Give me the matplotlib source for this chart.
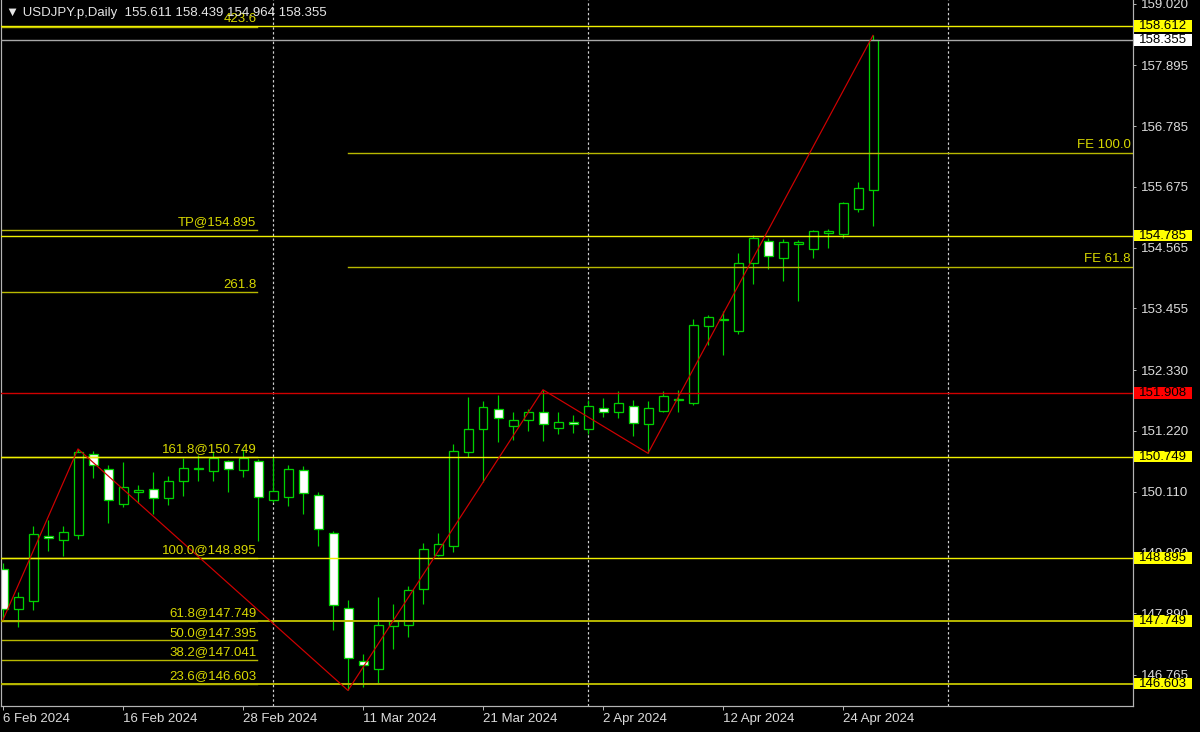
import matplotlib
matplotlib.use("Agg")
import matplotlib.pyplot as plt
import matplotlib.transforms as mtransforms
from matplotlib.patches import Rectangle

plt.rcParams['font.family'] = ['Liberation Sans', 'DejaVu Sans']

# daily bars, bar 0 = 6 Feb 2024, last = 26 Apr 2024
opens = [148.69, 147.96, 148.11, 149.30, 149.23, 149.32, 150.79, 150.53, 149.88, 150.10,
         150.16, 149.99, 150.31, 150.52, 150.48, 150.67, 150.50, 150.67, 149.95, 150.02,
         150.50, 150.05, 149.35, 147.99, 147.01, 146.87, 147.66, 147.67, 148.34, 148.95,
         149.12, 150.84, 151.25, 151.61, 151.30, 151.42, 151.56, 151.27, 151.39, 151.25,
         151.64, 151.56, 151.67, 151.34, 151.58, 151.78, 151.73, 153.14, 153.25, 153.05,
         154.29, 154.68, 154.37, 154.64, 154.54, 154.84, 154.81, 155.27, 155.611]
highs = [148.81, 148.27, 149.48, 149.59, 149.48, 150.89, 150.85, 150.59, 150.66, 150.23,
         150.46, 150.40, 150.72, 150.77, 150.86, 150.69, 150.89, 150.70, 150.74, 150.59,
         150.57, 150.11, 149.39, 148.13, 147.14, 148.19, 148.05, 148.38, 149.18, 149.35,
         150.98, 151.83, 151.77, 151.88, 151.57, 151.62, 151.97, 151.57, 151.51, 151.79,
         151.82, 151.94, 151.79, 151.77, 151.94, 151.96, 153.27, 153.34, 153.40, 154.46,
         154.79, 154.75, 154.72, 154.70, 154.89, 154.90, 155.39, 155.77, 158.439]
lows = [147.77, 147.64, 147.95, 149.03, 148.93, 149.25, 150.36, 149.53, 149.83, 149.90,
        149.70, 149.86, 150.03, 150.31, 150.31, 150.10, 150.38, 149.21, 149.93, 149.84,
        149.71, 149.11, 147.58, 146.48, 146.55, 146.62, 147.24, 147.45, 148.05, 148.93,
        149.01, 150.74, 150.28, 151.01, 151.06, 151.21, 151.04, 151.16, 151.18, 151.16,
        151.48, 151.46, 151.13, 150.81, 151.56, 151.57, 151.69, 152.78, 152.60, 152.98,
        153.91, 154.17, 153.95, 153.60, 154.38, 154.55, 154.75, 155.21, 154.964]
closes = [147.96, 148.18, 149.33, 149.27, 149.37, 150.84, 150.60, 149.95, 150.20, 150.14,
          150.00, 150.30, 150.55, 150.55, 150.72, 150.53, 150.72, 150.02, 150.12, 150.53,
          150.08, 149.42, 148.04, 147.07, 146.95, 147.67, 147.74, 148.32, 149.06, 149.16,
          150.86, 151.25, 151.65, 151.45, 151.42, 151.56, 151.34, 151.39, 151.35, 151.67,
          151.57, 151.72, 151.36, 151.63, 151.85, 151.80, 153.16, 153.30, 153.27, 154.29,
          154.75, 154.41, 154.67, 154.66, 154.86, 154.86, 155.38, 155.66, 158.355]

tick_idx = [0, 8, 16, 24, 32, 40, 48, 56]
date_labels = ['6 Feb 2024', '16 Feb 2024', '28 Feb 2024', '11 Mar 2024',
               '21 Mar 2024', '2 Apr 2024', '12 Apr 2024', '24 Apr 2024']
separator_idx = [18, 39, 63]

price_ticks = [159.020, 157.895, 156.785, 155.675, 154.565, 153.455,
               152.330, 151.220, 150.110, 149.000, 147.890, 146.765]

zigzag_idx = [0, 5, 23, 36, 43, 58]
zigzag_px = [147.77, 150.89, 146.48, 151.97, 150.81, 158.44]

# full width horizontal lines
hline_px = [158.612, 154.785, 150.749, 148.895, 147.749, 146.603]
hline_bright = [True, True, True, True, False, False]
red_line = 151.908
bid_line = 158.355

# fibo retracement levels (left part)
fib_labels = ['423.6', 'TP@154.895', '261.8', '161.8@150.749', '100.0@148.895',
              '61.8@147.749', '50.0@147.395', '38.2@147.041', '23.6@146.603']
fib_px = [158.603, 154.895, 153.749, 150.749, 148.895, 147.749, 147.395, 147.041, 146.603]
fib_end = 16.9

# fibo expansion levels
fe_labels = ['FE 100.0', 'FE 61.8']
fe_px = [156.30, 154.21]
fe_start = 23

title = '\u25bc USDJPY.p,Daily  155.611 158.439 154.964 158.355'

BRIGHT = '#f0f000'
OLIVE = '#b8b800'
LABEL_Y = '#d8d800'
GREEN = '#00d000'
GRID = '#b4b4b4'
FS = 9.5

fig = plt.figure(figsize=(12, 7.32), dpi=100, facecolor='black')
ax = fig.add_axes([1 / 1200, 26 / 732, 1132 / 1200, 706 / 732])
ax.set_facecolor('black')
ax.set_xlim(-2 / 15, 1130 / 15)
ax.set_ylim(146.196, 159.087)

px = 0.72  # one pixel in points

# separators
for s in separator_idx:
    ax.axvline(s, color='#d0d0d0', lw=px * 1.2, ls=(0, (2, 2)), zorder=1)

# candles
for i, (o, h, l, c) in enumerate(zip(opens, highs, lows, closes)):
    ax.plot([i, i], [l, h], color=GREEN, lw=px * 1.2, zorder=2, solid_capstyle='butt')
    bottom = min(o, c)
    height = abs(c - o)
    face = 'black' if c > o else 'white'
    ax.add_patch(Rectangle((i - 0.3, bottom), 0.6, height, facecolor=face,
                           edgecolor=GREEN, lw=px * 1.3, zorder=2.2))

# fibo short levels
for lab, p in zip(fib_labels, fib_px):
    ax.plot([-1, fib_end], [p, p], color=OLIVE, lw=px * 1.4, zorder=2.5)
    ax.text(fib_end, p + 0.03, lab, color=LABEL_Y, fontsize=FS, ha='right', va='bottom', zorder=4)

# fibo expansion
for lab, p in zip(fe_labels, fe_px):
    ax.plot([fe_start, 80], [p, p], color=OLIVE, lw=px * 1.4, zorder=2.5)
    ax.text(75.2, p + 0.03, lab, color=LABEL_Y, fontsize=FS, ha='right', va='bottom', zorder=4)

# horizontal lines
for p, b in zip(hline_px, hline_bright):
    ax.axhline(p, color=BRIGHT if b else OLIVE, lw=1.0 if b else 1.4, zorder=2.6)
ax.axhline(red_line, color='#d00000', lw=1.0, zorder=2.6)
ax.axhline(bid_line, color='#a8a8a8', lw=1.0, zorder=2.6)

# zigzag
ax.plot(zigzag_idx, zigzag_px, color='#d00000', lw=px * 1.2, zorder=3)

# axes styling
ax.spines['top'].set_visible(False)
for side in ['left', 'right', 'bottom']:
    ax.spines[side].set_color(GRID)
    ax.spines[side].set_linewidth(px * 1.2)

ax.yaxis.tick_right()
ax.set_yticks(price_ticks)
ax.set_yticklabels(['%.3f' % t for t in price_ticks])
ax.tick_params(axis='y', colors=GRID, labelcolor='#dcdcdc', labelsize=FS,
               length=2, width=px, pad=4)
ax.set_xticks(tick_idx)
ax.set_xticklabels(date_labels, ha='left')
ax.tick_params(axis='x', colors=GRID, labelcolor='#dcdcdc', labelsize=FS,
               length=3, width=px, pad=2)

# price boxes on the right axis
trans = mtransforms.blended_transform_factory(ax.transAxes, ax.transData)
box_px = hline_px + [red_line, bid_line]
box_fc = ['#ffff00'] * len(hline_px) + ['#ff0000', '#ffffff']
for p, fc in zip(box_px, box_fc):
    ax.add_patch(Rectangle((1.001, p - 0.105), 58 / 1132, 0.21, facecolor=fc,
                           edgecolor='none', transform=trans, clip_on=False, zorder=5))
    ax.text(1 + 6 / 1132, p, '%.3f' % p, transform=trans, color='black', fontsize=FS,
            ha='left', va='center', clip_on=False, zorder=6)

fig.text(6 / 1200, 1 - 13 / 732, title, color='#e6e6e6', fontsize=FS, ha='left', va='center')

fig.savefig('out.png', dpi=100, facecolor='black')
